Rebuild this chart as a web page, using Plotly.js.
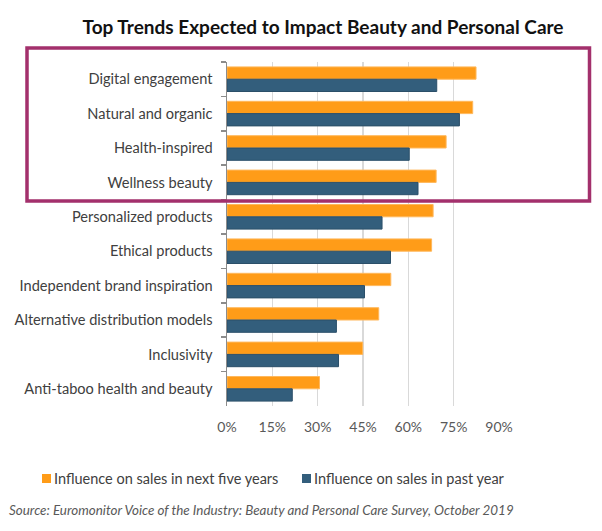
<!DOCTYPE html>
<html>
<head>
<meta charset="utf-8">
<script src="https://cdn.plot.ly/plotly-3.0.1.min.js"></script>
<style>
html,body{margin:0;padding:0;background:#fff;}
#chart{width:602px;height:531px;}
</style>
</head>
<body>
<div id="chart"></div>
<script>
const categories = [
  "Digital engagement",
  "Natural and organic",
  "Health-inspired",
  "Wellness beauty",
  "Personalized products",
  "Ethical products",
  "Independent brand inspiration",
  "Alternative distribution models",
  "Inclusivity",
  "Anti-taboo health and beauty"
];
const nextFiveYears = [82.4, 81.3, 72.5, 69.2, 68.2, 67.7, 54.2, 50.2, 44.9, 30.6];
const pastYear = [69.4, 76.9, 60.3, 63.2, 51.3, 54.1, 45.5, 36.2, 36.9, 21.6];
const seriesNames = ["Influence on sales in next five years", "Influence on sales in past year"];
const seriesColors = ["#FF9C18", "#335E7C"];
const seriesLineColors = ["#FFB85C", "#2B4F69"];
const tickVals = [0, 15, 30, 45, 60, 75, 90];
const tickText = ["0%", "15%", "30%", "45%", "60%", "75%", "90%"];

const FONT = "Lato, 'Open Sans', sans-serif";
const L = 227, R = 103, T = 62, B = 125;
const W = 602, H = 531;
const pw = W - L - R, ph = H - T - B;
const px = x => (x - L) / pw;
const py = y => (H - B - y) / ph;

const traces = [
  {
    type: "bar", orientation: "h", name: seriesNames[0],
    y: categories, x: nextFiveYears,
    marker: {color: seriesColors[0], line: {color: seriesLineColors[0], width: 1}},
    hoverinfo: "skip", showlegend: false
  },
  {
    type: "bar", orientation: "h", name: seriesNames[1],
    y: categories, x: pastYear,
    marker: {color: seriesColors[1], line: {color: seriesLineColors[1], width: 1}},
    hoverinfo: "skip", showlegend: false
  }
];

// Legend (drawn as small squares + labels to match the reference spacing)
const legendItems = [
  {sq: 42, text: 54},
  {sq: 302, text: 314}
];
const legendY = 478.5;
const shapes = [
  {
    type: "rect", xref: "paper", yref: "paper",
    x0: px(27), x1: px(589.5), y0: py(48), y1: py(201),
    line: {color: "#A3306C", width: 3.5}, fillcolor: "rgba(0,0,0,0)", layer: "above"
  }
];
const annotations = [
  {
    xref: "paper", yref: "paper", x: px(7), y: py(510), xanchor: "left", yanchor: "middle",
    text: "<i>Source: Euromonitor Voice of the Industry: Beauty and Personal Care Survey, October 2019</i>",
    showarrow: false, font: {family: FONT, size: 13.4, color: "#595959"}
  }
];
legendItems.forEach((it, i) => {
  shapes.push({
    type: "rect", xref: "paper", yref: "paper",
    x0: px(it.sq), x1: px(it.sq + 9), y0: py(legendY - 4.5), y1: py(legendY + 4.5),
    line: {width: 0}, fillcolor: seriesColors[i]
  });
  annotations.push({
    xref: "paper", yref: "paper", x: px(it.text), y: py(legendY), xanchor: "left", yanchor: "middle",
    xshift: -2, text: seriesNames[i], showarrow: false,
    font: {family: FONT, size: 14.5, color: "#404040"}
  });
});

const layout = {
  width: W, height: H,
  margin: {l: L, r: R, t: T, b: B, pad: 0},
  paper_bgcolor: "#fff", plot_bgcolor: "#fff",
  font: {family: FONT, color: "#404040", size: 14},
  title: {
    text: "<b>Top Trends Expected to Impact Beauty and Personal Care</b>",
    font: {family: FONT, size: 19, color: "#111"},
    x: 323 / W, xref: "container", xanchor: "center",
    y: 1 - 27 / H, yref: "container", yanchor: "middle"
  },
  barmode: "group", bargap: 0.285, bargroupgap: 0,
  xaxis: {
    range: [0, 90], tickvals: tickVals, ticktext: tickText,
    showgrid: true, gridcolor: "#D9D9D9", gridwidth: 1.5,
    zeroline: false, showline: false, ticks: "",
    tickfont: {family: FONT, size: 14, color: "#595959"},
    ticklabelstandoff: 11, fixedrange: true
  },
  yaxis: {
    type: "category", autorange: "reversed",
    showline: true, linecolor: "#8C8C8C", linewidth: 1.5,
    ticks: "outside", tickson: "boundaries", ticklen: 5, tickcolor: "#8C8C8C", tickwidth: 1.5,
    tickfont: {family: FONT, size: 14.6, color: "#404040"},
    ticklabelstandoff: 10, showgrid: false, zeroline: false, fixedrange: true
  },
  showlegend: false,
  shapes: shapes,
  annotations: annotations
};

Plotly.newPlot("chart", traces, layout, {displayModeBar: false, staticPlot: true});
</script>
</body>
</html>
